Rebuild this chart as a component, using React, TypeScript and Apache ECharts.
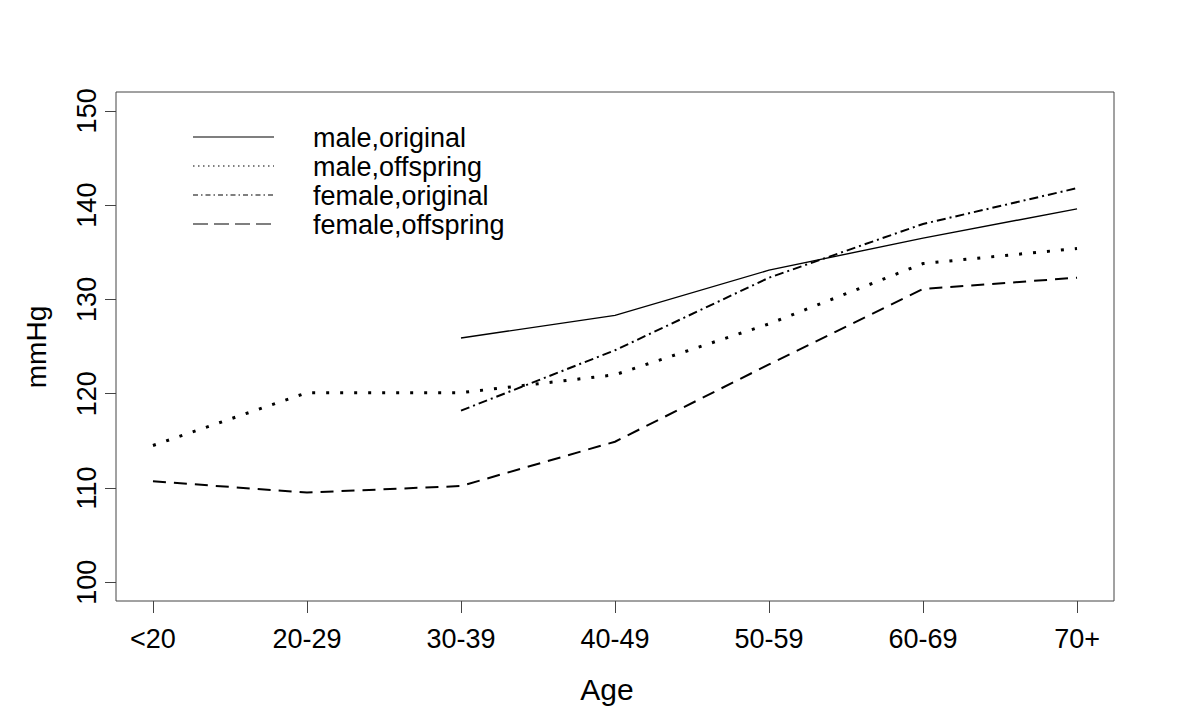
import React, { useEffect, useRef } from "react";
import * as echarts from "echarts";

const ageGroups = ["<20", "20-29", "30-39", "40-49", "50-59", "60-69", "70+"];
const yTicks = [100, 110, 120, 130, 140, 150];
const maleOriginal = [null, null, 125.9, 128.3, 133.1, 136.5, 139.6];
const maleOffspring = [114.5, 120.1, 120.1, 122.0, 127.4, 133.8, 135.4];
const femaleOriginal = [null, null, 118.2, 124.6, 132.3, 138.0, 141.8];
const femaleOffspring = [110.7, 109.5, 110.2, 114.9, 123.1, 131.1, 132.3];
const seriesNames = ["male,original", "male,offspring", "female,original", "female,offspring"];

const FONT = "Liberation Sans, Arial, sans-serif";

const toData = (arr: (number | null)[]) =>
  arr.map((v, i) => (v == null ? [i, "-"] : [i, v]));

const styles = [
  { width: 1.4, type: "solid" as any, legendDash: null as any, legendWidth: 1.2 },
  { width: 3, type: [3, 11], legendDash: [1.5, 3.5], legendWidth: 1.2 },
  { width: 2, type: [9, 4, 2, 4], legendDash: [5, 3, 1.5, 3], legendWidth: 1.2 },
  { width: 2, type: [13, 8], legendDash: [15, 6], legendWidth: 1.2 },
];

export default function App() {
  const ref = useRef<HTMLDivElement>(null);
  useEffect(() => {
    if (!ref.current) return;
    const chart = echarts.init(ref.current, null, { renderer: "svg" });
    const allSeries = [maleOriginal, maleOffspring, femaleOriginal, femaleOffspring];

    const legendGraphics: any[] = [];
    seriesNames.forEach((name, i) => {
      const y = 137 + i * 29;
      legendGraphics.push({
        type: "line",
        shape: { x1: 193, y1: y, x2: 274, y2: y },
        style: {
          stroke: "#000",
          lineWidth: styles[i].legendWidth,
          lineDash: styles[i].legendDash,
          lineCap: "butt",
        },
      });
      legendGraphics.push({
        type: "text",
        x: 313,
        y: y + 1,
        style: {
          text: name,
          font: `27px ${FONT}`,
          fill: "#000",
          textAlign: "left",
          textVerticalAlign: "middle",
        },
      });
    });

    chart.setOption({
      animation: false,
      backgroundColor: "#fff",
      grid: {
        left: 116,
        top: 92,
        width: 998,
        height: 509,
        show: true,
        borderColor: "#444",
        borderWidth: 1,
        backgroundColor: "transparent",
      },
      xAxis: {
        type: "value",
        min: -0.24,
        max: 6.24,
        axisLine: { show: false, onZero: false },
        splitLine: { show: false },
        axisTick: {
          show: true,
          inside: false,
          length: 12,
          customValues: ageGroups.map((_, i) => i),
          lineStyle: { color: "#444", width: 1 },
        },
        axisLabel: {
          customValues: ageGroups.map((_, i) => i),
          formatter: (v: number) => ageGroups[Math.round(v)] ?? "",
          fontFamily: FONT,
          fontSize: 27,
          color: "#000",
          margin: 24,
        },
      },
      yAxis: {
        type: "value",
        min: 98,
        max: 152,
        axisLine: { show: false, onZero: false },
        splitLine: { show: false },
        axisTick: {
          show: true,
          inside: false,
          length: 11,
          customValues: yTicks,
          lineStyle: { color: "#444", width: 1 },
        },
        axisLabel: {
          customValues: yTicks,
          rotate: 90,
          fontFamily: FONT,
          fontSize: 27,
          color: "#000",
          margin: 16,
        },
      },
      graphic: [
        ...legendGraphics,
        {
          type: "text",
          x: 607,
          y: 689,
          style: {
            text: "Age",
            font: `30px ${FONT}`,
            fill: "#000",
            textAlign: "center",
            textVerticalAlign: "middle",
          },
        },
        {
          type: "text",
          x: 36,
          y: 347,
          rotation: Math.PI / 2,
          style: {
            text: "mmHg",
            font: `28px ${FONT}`,
            fill: "#000",
            textAlign: "center",
            textVerticalAlign: "middle",
          },
        },
      ],
      series: allSeries.map((arr, i) => ({
        name: seriesNames[i],
        type: "line",
        data: toData(arr),
        showSymbol: false,
        symbol: "none",
        connectNulls: false,
        lineStyle: {
          color: "#000",
          width: styles[i].width,
          type: styles[i].type,
          cap: "butt",
          join: "miter",
        },
      })),
    });
    return () => chart.dispose();
  }, []);
  return (
    <div
      ref={ref}
      style={{ position: "fixed", left: 0, top: 0, width: 1200, height: 725 }}
    />
  );
}
